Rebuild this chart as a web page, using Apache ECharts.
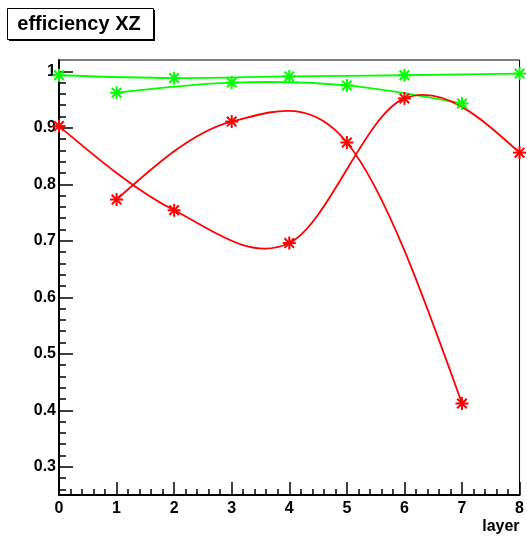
<!DOCTYPE html>
<html>
<head>
<meta charset="utf-8">
<script src="https://cdn.jsdelivr.net/npm/echarts@6/dist/echarts.min.js"></script>
<style>
  html, body { margin: 0; padding: 0; background: #fff; }
  #chart { width: 527px; height: 537px; }
</style>
</head>
<body>
<div id="chart"></div>
<script>
// layers measured in two interleaved sets
const layersEven = [0, 2, 4, 6, 8];
const layersOdd = [1, 3, 5, 7];

const greenEven = [0.993, 0.988, 0.991, 0.993, 0.996];
const greenOdd = [0.962, 0.980, 0.975, 0.943];
const redEven = [0.903, 0.754, 0.696, 0.952, 0.856];
const redOdd = [0.773, 0.911, 0.874, 0.412];

const yMajorTicks = [0.3, 0.4, 0.5, 0.6, 0.7, 0.8, 0.9, 1.0];

// minor ticks every 0.02 between 0.25 and 1.02
let yMinorTicks = [];
for (let i = 13; i <= 50; i++) {
    let v = Math.round(i * 0.02 * 1000) / 1000;
    if (Math.round(v * 100) % 10 !== 0) yMinorTicks.push(v);
}

const FONT = 'Liberation Sans';

function pairs(xs, ys) {
    return xs.map((x, i) => [x, ys[i]]);
}

// slopes for a ROOT-like smooth curve: centred differences inside, natural ends
function slopes(xs, ys) {
    let n = xs.length, m = [];
    for (let i = 1; i < n - 1; i++) {
        m[i] = (ys[i + 1] - ys[i - 1]) / (xs[i + 1] - xs[i - 1]);
    }
    let d0 = (ys[1] - ys[0]) / (xs[1] - xs[0]);
    let dn = (ys[n - 1] - ys[n - 2]) / (xs[n - 1] - xs[n - 2]);
    m[0] = (3 * d0 - m[1]) / 2;
    m[n - 1] = (3 * dn - m[n - 2]) / 2;
    return m;
}

function curve(xs, ys, color) {
    const m = slopes(xs, ys);
    return {
        type: 'custom',
        data: pairs(xs, ys),
        clip: false,
        z: 2,
        renderItem: function (params, api) {
            const i = params.dataIndex;
            if (i >= xs.length - 1) return null;
            const h = xs[i + 1] - xs[i];
            const p0 = api.coord([xs[i], ys[i]]);
            const c1 = api.coord([xs[i] + h / 3, ys[i] + m[i] * h / 3]);
            const c2 = api.coord([xs[i + 1] - h / 3, ys[i + 1] - m[i + 1] * h / 3]);
            const p1 = api.coord([xs[i + 1], ys[i + 1]]);
            return {
                type: 'bezierCurve',
                shape: { x1: p0[0], y1: p0[1], cpx1: c1[0], cpy1: c1[1], cpx2: c2[0], cpy2: c2[1], x2: p1[0], y2: p1[1] },
                style: { stroke: color, lineWidth: 1.8, fill: null }
            };
        }
    };
}

// ROOT marker style 3 (asterisk)
function markers(xs, ys, color) {
    const r = 6.5, d = 4.8;
    return {
        type: 'custom',
        data: pairs(xs, ys),
        clip: false,
        z: 3,
        renderItem: function (params, api) {
            const p = api.coord([api.value(0), api.value(1)]);
            const st = { stroke: color, lineWidth: 2 };
            const seg = (a, b, c, e) => ({ type: 'line', shape: { x1: p[0] + a, y1: p[1] + b, x2: p[0] + c, y2: p[1] + e }, style: st });
            return {
                type: 'group',
                children: [seg(-r, 0, r, 0), seg(0, -r, 0, r), seg(-d, -d, d, d), seg(-d, d, d, -d)]
            };
        }
    };
}

let myChart = echarts.init(document.getElementById('chart'));

myChart.setOption({
    backgroundColor: '#fff',
    animation: false,
    grid: {
        left: 59, right: 5, top: 60, bottom: 42,
        show: true, borderColor: '#000', borderWidth: 1
    },
    graphic: [
        { type: 'rect', shape: { x: 9, y: 10, width: 146, height: 31 }, style: { fill: '#000' } },
        { type: 'rect', shape: { x: 7.5, y: 8.5, width: 146, height: 31 }, style: { fill: '#fff', stroke: '#000', lineWidth: 1 } },
        {
            type: 'text', x: 79, y: 24,
            style: { text: 'efficiency XZ', font: 'bold 20px "' + FONT + '"', fill: '#000', align: 'center', verticalAlign: 'middle' }
        }
    ],
    xAxis: {
        type: 'value',
        min: 0, max: 8, interval: 1,
        name: 'layer',
        nameLocation: 'end',
        nameGap: 0,
        nameTextStyle: {
            fontFamily: FONT, fontWeight: 'bold', fontSize: 16, color: '#000',
            align: 'right', verticalAlign: 'top', padding: [24, 0, 0, 0]
        },
        axisLine: { show: true, lineStyle: { color: '#000', width: 2 } },
        axisTick: { show: true, inside: true, length: 13, lineStyle: { color: '#000', width: 1.5 } },
        minorTick: { show: true, splitNumber: 5, length: 6, lineStyle: { color: '#000', width: 1.5 } },
        axisLabel: { fontFamily: FONT, fontWeight: 'bold', fontSize: 16, color: '#000', margin: 6 },
        splitLine: { show: false }
    },
    yAxis: [{
        type: 'value',
        min: 0.25, max: 1.02,
        axisLine: { show: true, lineStyle: { color: '#000', width: 2 } },
        axisTick: { show: true, inside: true, length: 14, customValues: yMajorTicks, lineStyle: { color: '#000', width: 1.5 } },
        axisLabel: { customValues: yMajorTicks, fontFamily: FONT, fontWeight: 'bold', fontSize: 16, color: '#000', margin: 3 },
        splitLine: { show: false }
    }, {
        type: 'value',
        position: 'left',
        min: 0.25, max: 1.02,
        axisLine: { show: false },
        axisTick: { show: true, inside: true, length: 7, customValues: yMinorTicks, lineStyle: { color: '#000', width: 1.5 } },
        axisLabel: { show: false },
        splitLine: { show: false }
    }],
    series: [
        curve(layersEven, greenEven, '#00ff00'),
        curve(layersOdd, greenOdd, '#00ff00'),
        curve(layersEven, redEven, '#ff0000'),
        curve(layersOdd, redOdd, '#ff0000'),
        markers(layersEven, greenEven, '#00ff00'),
        markers(layersOdd, greenOdd, '#00ff00'),
        markers(layersEven, redEven, '#ff0000'),
        markers(layersOdd, redOdd, '#ff0000')
    ]
});
</script>
</body>
</html>
